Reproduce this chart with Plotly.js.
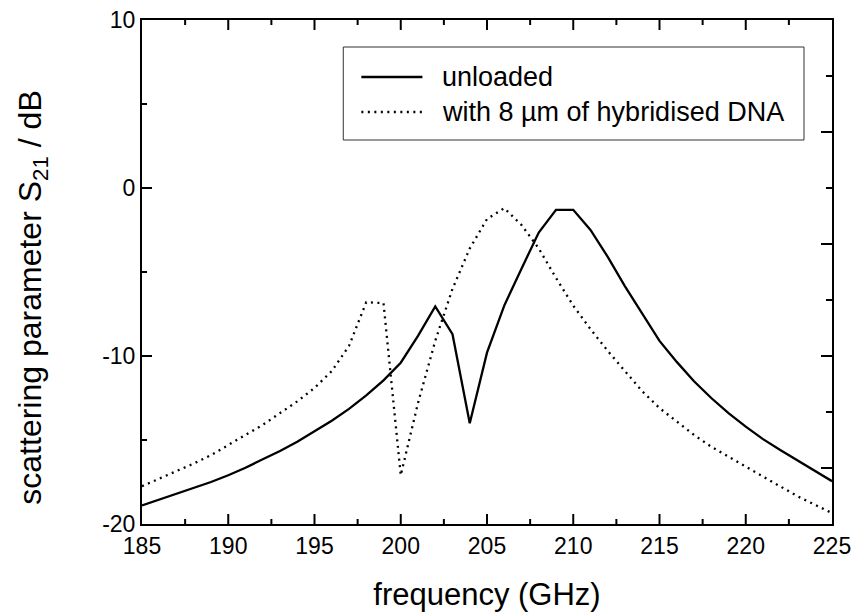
<!DOCTYPE html>
<html>
<head>
<meta charset="utf-8">
<script src="https://cdn.plot.ly/plotly-3.0.1.min.js"></script>
<style>html,body{margin:0;padding:0;background:#fff;}#chart{width:855px;height:614px;}</style>
</head>
<body>
<div id="chart"></div>
<script>
// frequency in GHz
var freq = [185,186,187,188,189,190,191,192,193,194,195,196,197,198,199,200,201,202,203,204,205,
            206,207,208,209,210,211,212,213,214,215,216,217,218,219,220,221,222,223,224,225];
// S21 (dB), unloaded resonator
var unloaded = [-18.9,-18.55,-18.2,-17.85,-17.5,-17.1,-16.65,-16.15,-15.65,-15.1,-14.5,-13.85,-13.15,-12.35,-11.45,-10.4,-8.8,-7.05,-8.7,-14.0,-9.8,
                -7.0,-4.8,-2.65,-1.3,-1.3,-2.5,-4.1,-5.85,-7.5,-9.1,-10.35,-11.5,-12.5,-13.4,-14.2,-14.95,-15.6,-16.2,-16.85,-17.45];
// S21 (dB), with 8 µm of hybridised DNA
var loaded = [-17.75,-17.3,-16.85,-16.4,-15.9,-15.3,-14.7,-14.1,-13.4,-12.7,-11.9,-10.9,-9.4,-6.8,-6.85,-17.1,-12.8,-9.1,-6.0,-3.6,-1.85,
              -1.2,-2.2,-3.6,-5.35,-7.0,-8.4,-9.7,-10.9,-12.1,-13.1,-13.9,-14.7,-15.4,-16.0,-16.6,-17.2,-17.8,-18.35,-18.85,-19.35];
var seriesNames = ["unloaded", "with 8 µm of hybridised DNA"];
var xTickVals = [185, 190, 195, 200, 205, 210, 215, 220, 225];
var xMajorTicks = [190, 195, 200, 205, 210, 215, 220];
var xMinorTicks = [187.5, 192.5, 197.5, 202.5, 207.5, 212.5, 217.5, 222.5];
var yTickVals = [-20, -10, 0, 10];
var yTickText = ["-20", "-10", "0", "10"];
var yMajorTicks = [-10, 0];
var yMinorTicks = [-15, -5, 5];
// right-hand frame axis: 9 divisions, long ticks at odd, short at even divisions
var rightDivisions = 9;
var rightMajor = [1, 3, 5, 7];
var rightMinor = [2, 4, 6, 8];
var xTitle = "frequency (GHz)";
var yTitle = "scattering parameter S<sub>21</sub> / dB";

var FONT = "Liberation Sans, Arial, Helvetica, sans-serif";
var BLACK = "#000";
var DOT = "2px,4.5px";

var traces = [
  {x: freq, y: unloaded, name: seriesNames[0], type: "scatter", mode: "lines",
   line: {color: BLACK, width: 2.3}, showlegend: false},
  {x: freq, y: loaded, name: seriesNames[1], type: "scatter", mode: "lines",
   line: {color: BLACK, width: 2.3, dash: DOT}, showlegend: false}
];

// legend box drawn in paper coordinates (key box, not data)
var leg = {x0: 0.2917, x1: 0.9594, y0: 0.7619, y1: 0.9464,
           lx0: 0.3179, lx1: 0.4064, tx: 0.4325, rows: [0.8869, 0.8175]};
var shapes = [
  {type: "rect", xref: "paper", yref: "paper", x0: leg.x0, x1: leg.x1, y0: leg.y0, y1: leg.y1,
   line: {color: "#333", width: 1}, fillcolor: "rgba(0,0,0,0)", layer: "above"},
  {type: "line", xref: "paper", yref: "paper", x0: leg.lx0, x1: leg.lx1, y0: leg.rows[0], y1: leg.rows[0],
   line: {color: BLACK, width: 2.3}},
  {type: "line", xref: "paper", yref: "paper", x0: leg.lx0, x1: leg.lx1, y0: leg.rows[1], y1: leg.rows[1],
   line: {color: BLACK, width: 2.3, dash: DOT}}
];
var tickLine = {color: BLACK, width: 2};
// frame ticks (inside), positioned through the axes' own scales
function xTick(v, len) {
  shapes.push({type: "line", xref: "x", x0: v, x1: v, yref: "paper", ysizemode: "pixel", yanchor: 0,
               y0: -1, y1: len, line: tickLine, layer: "above"});
  shapes.push({type: "line", xref: "x", x0: v, x1: v, yref: "paper", ysizemode: "pixel", yanchor: 1,
               y0: 1, y1: -len, line: tickLine, layer: "above"});
}
function yTick(v, len) {
  shapes.push({type: "line", yref: "y", y0: v, y1: v, xref: "paper", xsizemode: "pixel", xanchor: 0,
               x0: -1, x1: len, line: tickLine, layer: "above"});
}
function rightTick(v, len) {
  shapes.push({type: "line", xref: "paper", xsizemode: "pixel", xanchor: 1, x0: -len, x1: 1,
               yref: "paper", y0: v / rightDivisions, y1: v / rightDivisions, line: tickLine, layer: "above"});
}
xMajorTicks.forEach(function (v) { xTick(v, 10); });
xMinorTicks.forEach(function (v) { xTick(v, 5); });
yMajorTicks.forEach(function (v) { yTick(v, 10); });
yMinorTicks.forEach(function (v) { yTick(v, 5); });
rightMajor.forEach(function (v) { rightTick(v, 11); });
rightMinor.forEach(function (v) { rightTick(v, 6); });

var annotations = seriesNames.map(function (n, i) {
  return {xref: "paper", yref: "paper", x: leg.tx, y: leg.rows[i], xanchor: "left", yanchor: "middle",
          text: n, showarrow: false, font: {family: FONT, size: 27, color: BLACK}};
});
annotations.push({xref: "paper", yref: "paper", x: -0.158, y: 0.449, xanchor: "center", yanchor: "middle",
                  textangle: -90, text: yTitle, showarrow: false,
                  font: {family: FONT, size: 32, color: BLACK}});

var layout = {
  width: 855, height: 614,
  margin: {l: 142, r: 23, t: 20, b: 90},
  paper_bgcolor: "#fff", plot_bgcolor: "#fff",
  font: {family: FONT, color: BLACK, size: 23},
  showlegend: false,
  shapes: shapes,
  annotations: annotations,
  xaxis: {
    range: [185, 225], tickmode: "array", tickvals: xTickVals, ticks: "",
    showline: true, linewidth: 2, linecolor: BLACK, mirror: true,
    showgrid: false, zeroline: false,
    tickfont: {family: FONT, size: 23, color: BLACK},
    title: {text: xTitle, font: {family: FONT, size: 31, color: BLACK}, standoff: 26}
  },
  yaxis: {
    range: [-20, 10], tickmode: "array", tickvals: yTickVals, ticktext: yTickText, ticks: "",
    showline: true, linewidth: 2, linecolor: BLACK, mirror: true,
    showgrid: false, zeroline: false,
    tickfont: {family: FONT, size: 23, color: BLACK}
  }
};

Plotly.newPlot("chart", traces, layout, {displayModeBar: false});
</script>
</body>
</html>
